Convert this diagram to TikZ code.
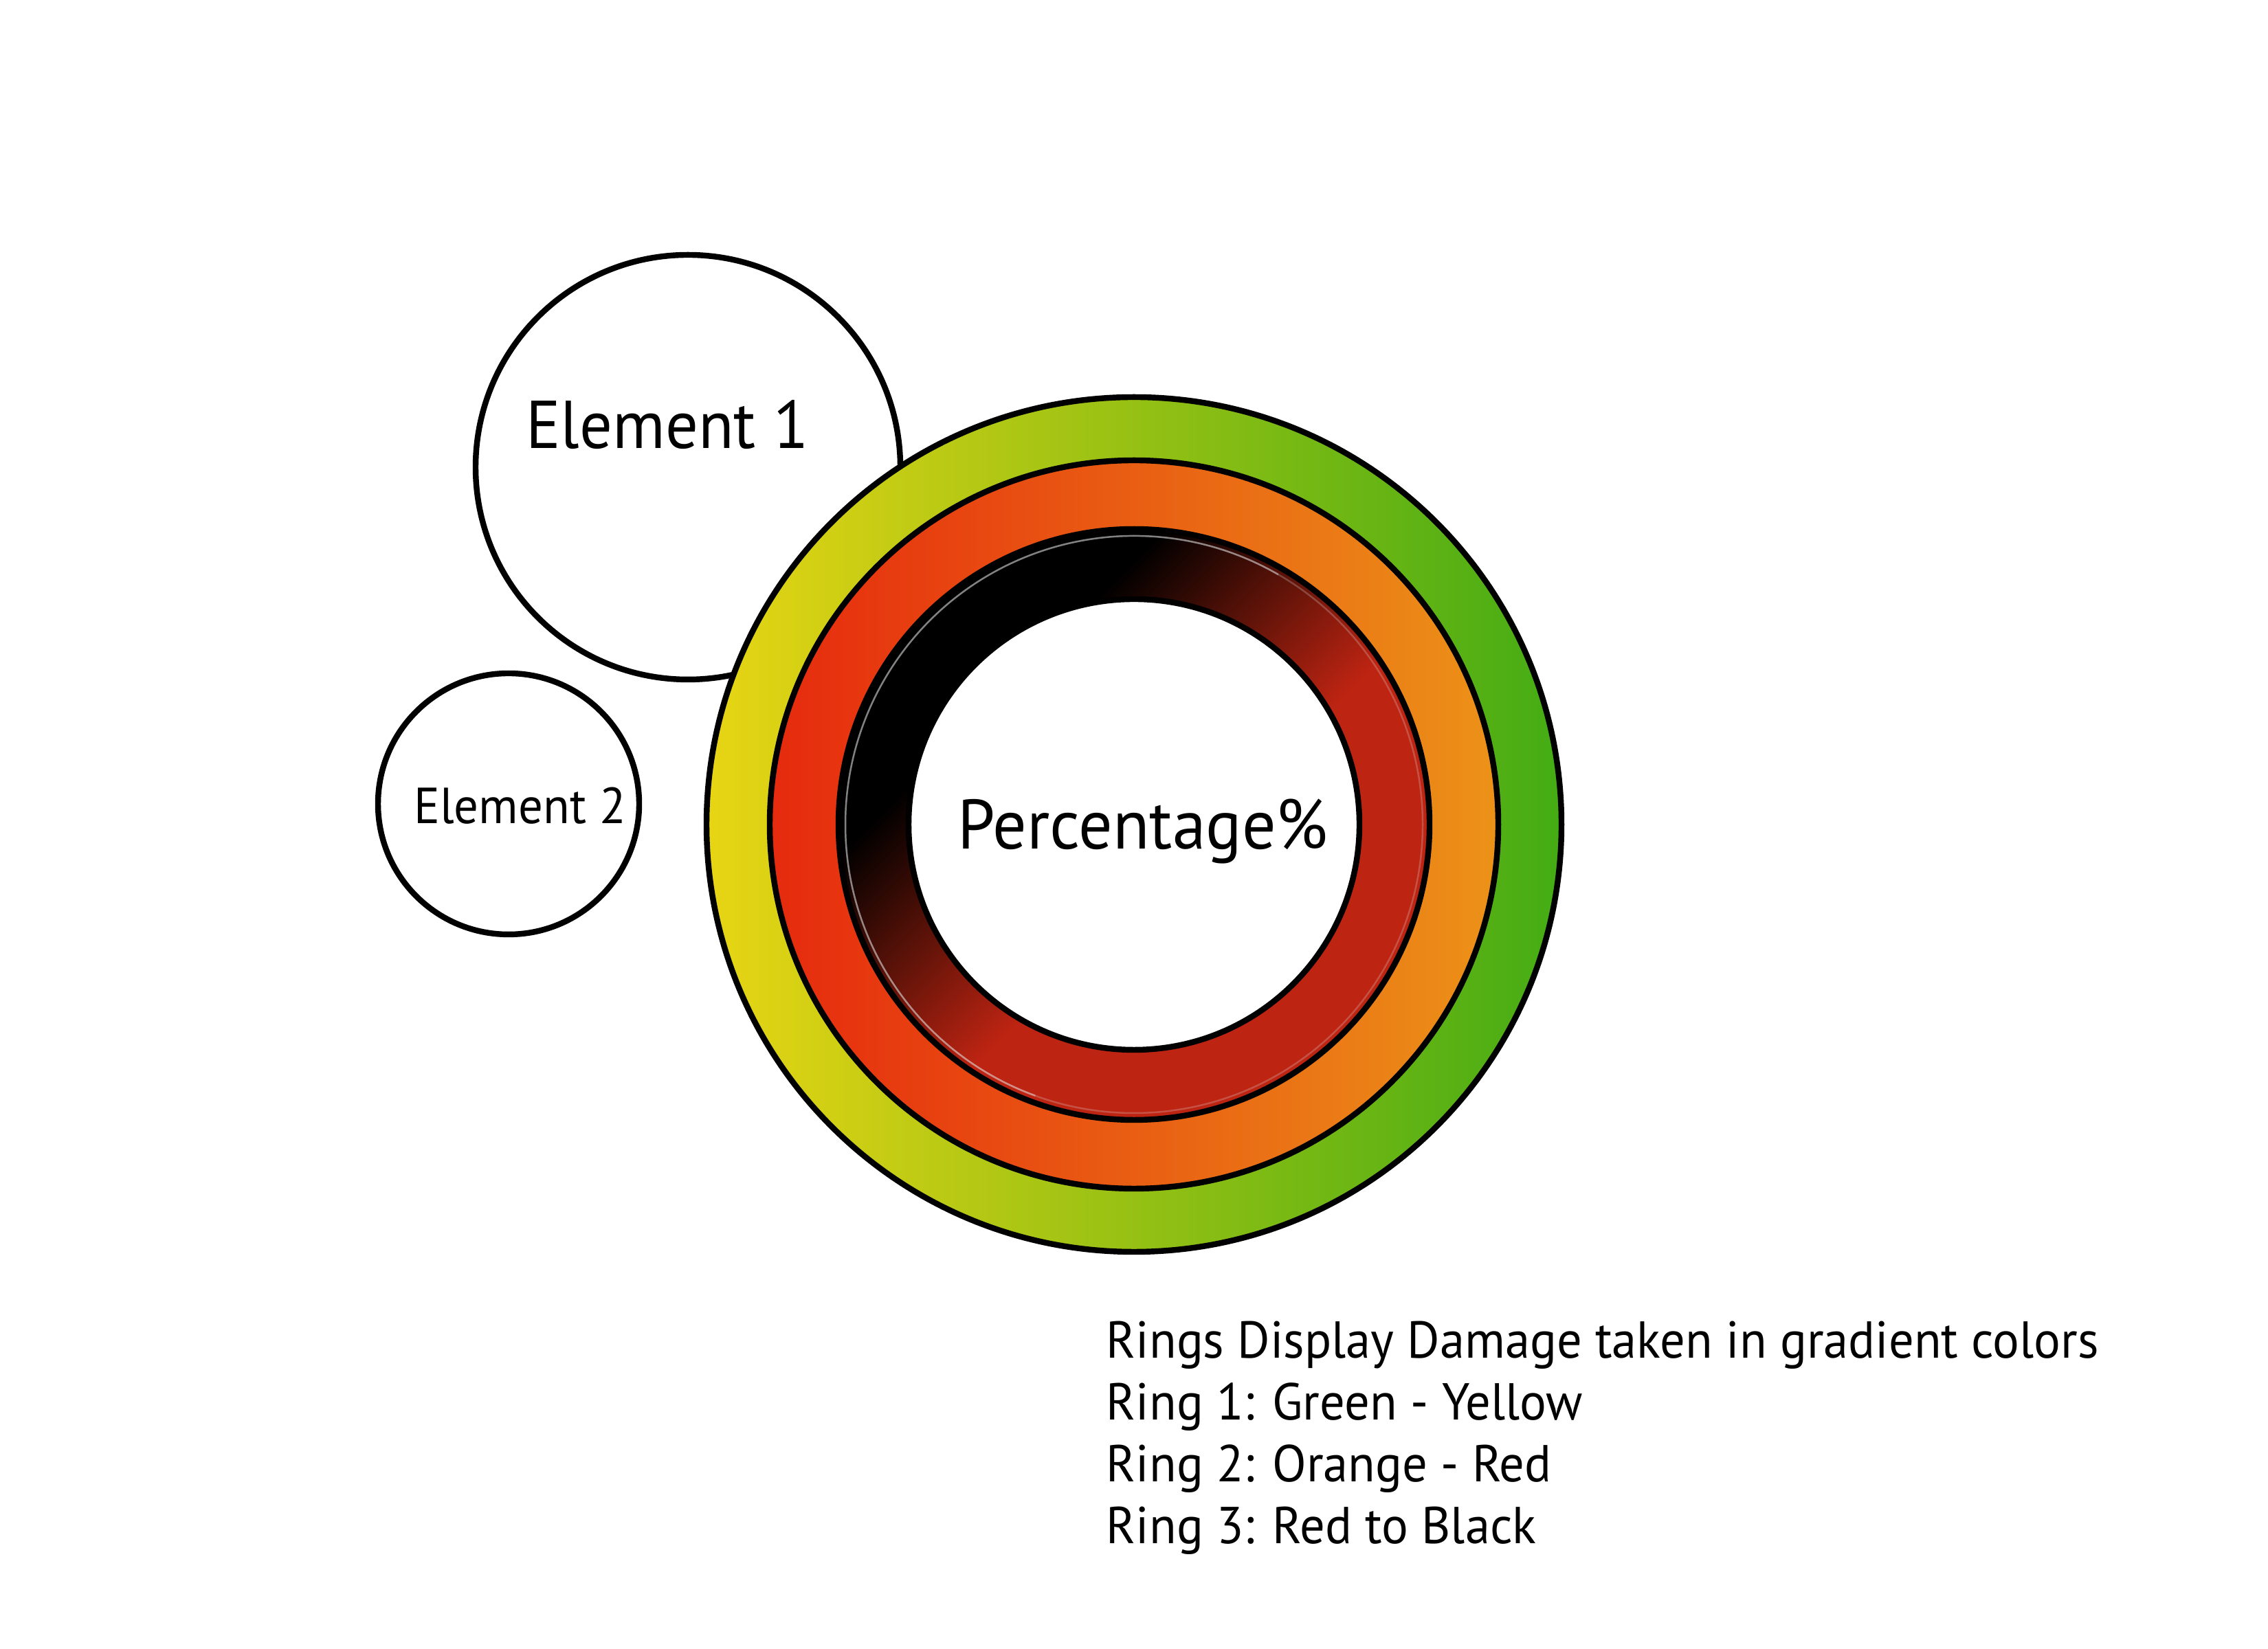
\documentclass[tikz,border=0pt]{standalone}
\usepackage{fontspec}
\setmainfont[FakeStretch=0.96]{PT Sans}
\usetikzlibrary{positioning}
\definecolor{ringyellow}{HTML}{E8D514}
\definecolor{ringlime}{HTML}{A5C417}
\definecolor{ringgreen}{HTML}{44AC14}
\definecolor{ringscarlet}{HTML}{E62A0E}
\definecolor{ringtangerine}{HTML}{E8701A}
\definecolor{ringorange}{HTML}{EC9218}
\definecolor{ringbrown}{HTML}{5A1208}
\definecolor{ringred}{HTML}{BE2412}
\pgfdeclarehorizontalshading{ringthree}{100bp}{color(0bp)=(black);
  color(34bp)=(black); color(44bp)=(ringbrown); color(55bp)=(ringred);
  color(100bp)=(ringred)}

\begin{document}
\begin{tikzpicture}[
  ring/.style={line width=2.4pt},
  elem/.style={circle, draw, line width=2.4pt, fill=white, inner sep=0pt},
  sheen/.style={white!75!gray, line width=0.7pt},
  big/.style={font=\fontsize{29}{34}\selectfont},
  small/.style={font=\fontsize{21}{25}\selectfont}
]
  \useasboundingbox (0,0) rectangle (33,24);
  \coordinate (main) at (16.5,12);

  % element 1 sits behind the rings
  \node[elem, minimum size=6.18cm] (elemone) at (10.01,17.2) {};
  \node[big, font=\fontsize{28}{34}\selectfont, anchor=base] (elemonetxt)
    at ([shift={(-0.3,0.27)}]elemone.center) {Element 1};
  \node[elem, minimum size=3.8cm] (elemtwo) at (7.4,12.3) {};
  \node[small, anchor=base] (elemtwotxt) at ([shift={(0.165,-0.29)}]elemtwo.center) {Element 2};

  % rings
  \shade[left color=ringyellow, middle color=ringlime, right color=ringgreen,
    even odd rule] (main) circle (6.22) (main) circle (5.30);
  \shade[left color=ringscarlet, middle color=ringtangerine, right color=ringorange,
    even odd rule] (main) circle (5.30) (main) circle (4.30);
  \shade[shading=ringthree, shading angle=-45, even odd rule]
    (main) circle (4.30) (main) circle (3.28);
  \draw[sheen, opacity=0.25] (main) circle (4.2);
  \draw[sheen, opacity=0.45] ([shift={(60:4.2)}]main) arc (60:250:4.2);
  \draw[ring] (main) circle (6.22) (main) circle (5.30) (main) circle (4.30);
  \node[elem, minimum size=6.56cm] (pct) at (main) {};
  \node[big, anchor=base] (pcttxt) at ([shift={(0.13,-0.36)}]pct.center) {Percentage\%};

  \node[small, font=\fontsize{21.5}{25.7}\selectfont, anchor=base west, align=left,
    inner sep=0pt] (note) at (16.09,1.53)
    {Rings Display Damage taken in gradient colors\\
     Ring 1: Green - Yellow\\
     Ring 2: Orange - Red\\
     Ring 3: Red to Black};
\end{tikzpicture}
\end{document}
